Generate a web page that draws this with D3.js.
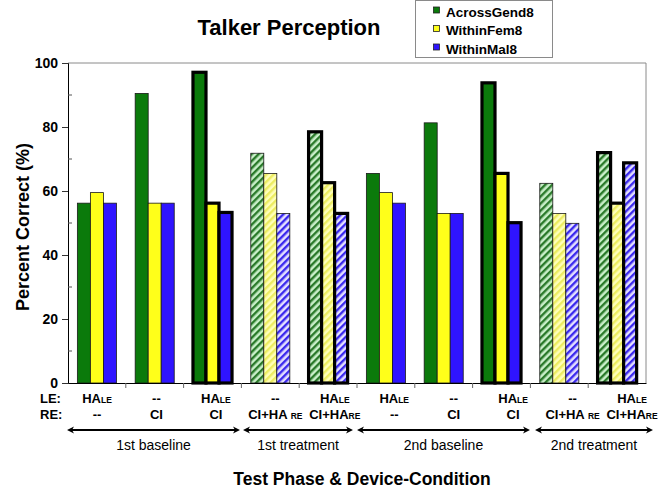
<!DOCTYPE html>
<html><head><meta charset="utf-8">
<script src="https://cdn.jsdelivr.net/npm/d3@7"></script>
<style>
body{margin:0;background:#fff;}
svg{font-family:"Liberation Sans",Arial,sans-serif;display:block;}
</style></head>
<body><svg id="c" width="667" height="491"></svg>
<script>
const categories = ["c1","c2","c3","c4","c5","c6","c7","c8","c9","c10"];
const leLabels = ["HA_LE","--","HA_LE","--","HA_LE","HA_LE","--","HA_LE","--","HA_LE"];
const reLabels = ["--","CI","CI","CI+HA _RE","CI+HA_RE","--","CI","CI","CI+HA _RE","CI+HA_RE"];
const phaseOf = ["1st baseline","1st baseline","1st baseline","1st treatment","1st treatment","2nd baseline","2nd baseline","2nd baseline","2nd treatment","2nd treatment"];
const phases = ["1st baseline","1st treatment","2nd baseline","2nd treatment"];
const seriesNames = ["AcrossGend8","WithinFem8","WithinMal8"];
const acrossGend8 = [56.2, 90.5, 97.1, 71.8, 78.5, 65.5, 81.3, 93.8, 62.4, 72.0];
const withinFem8  = [59.5, 56.2, 56.2, 65.5, 62.6, 59.5, 53.0, 65.5, 53.0, 56.2];
const withinMal8  = [56.2, 56.2, 53.3, 53.0, 53.0, 56.2, 53.0, 50.1, 49.9, 68.8];
const yTicks = [0,20,40,60,80,100];

const seriesValues = [acrossGend8, withinFem8, withinMal8];
const colors = ["#0b7a0b","#ffff1a","#2f14ff"];
const hatchBg = ["#c9efc9","#ffffb8","#e4e0ff"];
const hatchFg = ["#2a7a2a","#ecec60","#3a28ee"];

const svg = d3.select("#c");
const X0 = 68, X1 = 646, Y0 = 383, Y1 = 63;
const x = d3.scaleBand().domain(categories).range([X0, X1]).padding(0);
const y = d3.scaleLinear().domain([0,100]).range([Y0, Y1]);
const xs = d3.scaleBand().domain(seriesNames).range([0, x.bandwidth()]).paddingInner(0).paddingOuter(0.72);
const labelX = d3.scalePoint().domain(categories).range([97, 632]);

// patterns
const defs = svg.append("defs");
seriesNames.forEach((s,i)=>{
  const p = defs.append("pattern").attr("id","h"+i).attr("patternUnits","userSpaceOnUse")
    .attr("width",5).attr("height",5).attr("patternTransform","rotate(45)");
  p.append("rect").attr("width",5).attr("height",5).attr("fill",hatchBg[i]);
  p.append("rect").attr("x",0).attr("width",2.4).attr("height",5).attr("fill",hatchFg[i]);
});

// frame top/right
svg.append("path").attr("d",`M${X0},${Y1}H${X1}V${Y0}`).attr("fill","none").attr("stroke","#8a8a8a").attr("stroke-width",1);

// bars
const isTreat = phaseOf.map(p=>p.includes("treatment"));
const isBimodal = categories.map((c,i)=>leLabels[i]!=="--" && reLabels[i]!=="--");
categories.forEach((c,ci)=>{
  const g = svg.append("g").attr("transform",`translate(${x(c)},0)`);
  seriesNames.forEach((s,si)=>{
    const v = seriesValues[si][ci];
    g.append("rect")
      .attr("x", xs(s)).attr("width", xs.bandwidth())
      .attr("y", y(v)).attr("height", Y0 - y(v))
      .attr("fill", isTreat[ci] ? `url(#h${si})` : colors[si])
      .attr("stroke", isBimodal[ci] ? "#000" : "#1a1a1a")
      .attr("stroke-width", isBimodal[ci] ? 3.2 : 0.8);
  });
});

// y axis
const yAxis = d3.axisLeft(y).tickValues(yTicks).tickSize(6).tickPadding(4).tickFormat(d3.format("d"));
const ya = svg.append("g").attr("transform",`translate(${X0},0)`).call(yAxis);
ya.select(".domain").attr("stroke","#000");
ya.selectAll(".tick line").attr("stroke","#333");
ya.selectAll("text").attr("font-size",14).attr("font-weight","bold").attr("fill","#000");
const minor = d3.range(10,100,20);
ya.selectAll(".minor").data(minor).enter().append("line").attr("class","minor")
  .attr("x1",0).attr("x2",4).attr("y1",d=>y(d)).attr("y2",d=>y(d)).attr("stroke","#555");

// x axis
const xAxis = d3.axisBottom(x).tickSize(0).tickFormat("");
const xa = svg.append("g").attr("transform",`translate(0,${Y0})`).call(xAxis);
xa.select(".domain").attr("stroke","#000");
xa.selectAll(".bnd").data(categories.slice(1)).enter().append("line").attr("class","bnd")
  .attr("x1",d=>x(d)).attr("x2",d=>x(d)).attr("y1",0).attr("y2",5).attr("stroke","#666");

// category labels
function addLabel(sel, str){
  const parts = str.split("_");
  sel.append("tspan").text(parts[0]);
  if(parts[1]) sel.append("tspan").attr("font-size",8.5).text(parts[1]);
}
const rowLE = 403, rowRE = 419;
svg.append("text").attr("x",40).attr("y",rowLE).attr("font-size",13).attr("font-weight","bold").text("LE:");
svg.append("text").attr("x",40).attr("y",rowRE).attr("font-size",13).attr("font-weight","bold").text("RE:");
categories.forEach((c,i)=>{
  const t1 = svg.append("text").attr("x",labelX(c)).attr("y",rowLE).attr("text-anchor","middle")
    .attr("font-size",13).attr("font-weight","bold");
  addLabel(t1, leLabels[i]);
  const t2 = svg.append("text").attr("x",labelX(c)).attr("y",rowRE).attr("text-anchor","middle")
    .attr("font-size",13).attr("font-weight","bold");
  addLabel(t2, reLabels[i]);
});

// phase arrows
const phaseSpan = [[67,240],[243,353],[357,530],[535,653]];
const ay = 430;
function head(xp, dir){
  return `M${xp},${ay}L${xp-dir*7},${ay-3.5}L${xp-dir*5},${ay}L${xp-dir*7},${ay+3.5}Z`;
}
phases.forEach((p,i)=>{
  const [a,b] = phaseSpan[i];
  svg.append("line").attr("x1",a+3).attr("x2",b-3).attr("y1",ay).attr("y2",ay).attr("stroke","#000").attr("stroke-width",2);
  svg.append("path").attr("d",head(a,-1)).attr("fill","#000");
  svg.append("path").attr("d",head(b,1)).attr("fill","#000");
  svg.append("text").attr("x",(a+b)/2).attr("y",450).attr("text-anchor","middle").attr("font-size",14).text(p);
});

// titles
svg.append("text").attr("x",289).attr("y",35).attr("text-anchor","middle").attr("font-size",22).attr("font-weight","bold").text("Talker Perception");
svg.append("text").attr("x",362).attr("y",485).attr("text-anchor","middle").attr("font-size",17.5).attr("font-weight","bold").text("Test Phase & Device-Condition");
svg.append("text").attr("transform",`translate(29,${(Y0+Y1)/2+4}) rotate(-90)`).attr("text-anchor","middle").attr("font-size",18).attr("font-weight","bold").text("Percent Correct (%)");

// legend
const lg = svg.append("g");
lg.append("rect").attr("x",415.5).attr("y",0.5).attr("width",137).attr("height",57).attr("fill","#fff").attr("stroke","#8a8a8a");
seriesNames.forEach((s,i)=>{
  const yy = 16.5 + i*18.5;
  lg.append("rect").attr("x",433.5).attr("y",yy-9.5).attr("width",6).attr("height",6).attr("fill",colors[i]).attr("stroke","#222").attr("stroke-width",0.8);
  lg.append("text").attr("x",446).attr("y",yy).attr("font-size",13.5).attr("font-weight","bold").text(s);
});
</script></body></html>
